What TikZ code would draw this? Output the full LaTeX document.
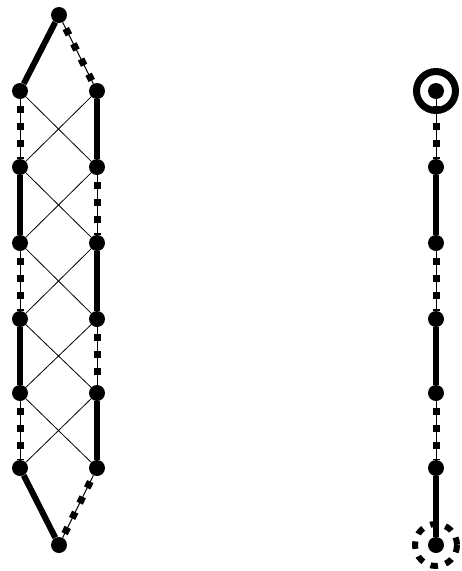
\documentclass[tikz,border=0pt]{standalone}
\usetikzlibrary{positioning}

\tikzset{
    dot/.style={circle, fill=black, inner sep=0pt, minimum size=16pt},
    thickedge/.style={line width=6pt},
    crossedge/.style={line width=0.8pt},
    dashedge/.style={line width=1pt,
        postaction={draw, line width=7pt, dash pattern=on 7pt off 10pt, dash phase=10pt}},
}

\begin{document}
\begin{tikzpicture}[x=1pt, y=-1pt]
    % cadre de l'image
    \useasboundingbox (0,0) rectangle (462,571);

    % Graphe de gauche : sommets
    \node[dot] (top) at (59,15) {};
    \node[dot] (bot) at (59,545) {};
    \foreach \i/\y in {1/91, 2/167, 3/243, 4/319, 5/393, 6/468} {
        \node[dot] (l\i) at (20,\y) {};
        \node[dot] (r\i) at (97,\y) {};
    }

    % Aretes croisees fines
    \foreach \i/\j in {1/2, 2/3, 3/4, 4/5, 5/6} {
        \draw[crossedge] (l\i) -- (r\j);
        \draw[crossedge] (r\i) -- (l\j);
    }

    % Aretes pleines et pointillees
    \draw[thickedge] (top) -- (l1);
    \draw[dashedge] (top) -- (r1);
    \draw[dashedge] (l1) -- (l2);
    \draw[thickedge] (l2) -- (l3);
    \draw[dashedge] (l3) -- (l4);
    \draw[thickedge] (l4) -- (l5);
    \draw[dashedge] (l5) -- (l6);
    \draw[thickedge] (r1) -- (r2);
    \draw[dashedge] (r2) -- (r3);
    \draw[thickedge] (r3) -- (r4);
    \draw[dashedge] (r4) -- (r5);
    \draw[thickedge] (r5) -- (r6);
    \draw[thickedge] (l6) -- (bot);
    \draw[dashedge] (r6) -- (bot);

    % Chemin de droite
    \foreach \i/\y in {1/91, 2/167, 3/243, 4/319, 5/393, 6/468, 7/545} {
        \node[dot] (p\i) at (436,\y) {};
    }
    \draw[dashedge] (p1) -- (p2);
    \draw[thickedge] (p2) -- (p3);
    \draw[dashedge] (p3) -- (p4);
    \draw[thickedge] (p4) -- (p5);
    \draw[dashedge] (p5) -- (p6);
    \draw[thickedge] (p6) -- (p7);

    % Extremites marquees
    \draw[line width=7pt] (p1) circle (19.5);
    \draw[line width=6pt, dash pattern=on 7.5pt off 8pt] (p7) circle (21);
\end{tikzpicture}
\end{document}
